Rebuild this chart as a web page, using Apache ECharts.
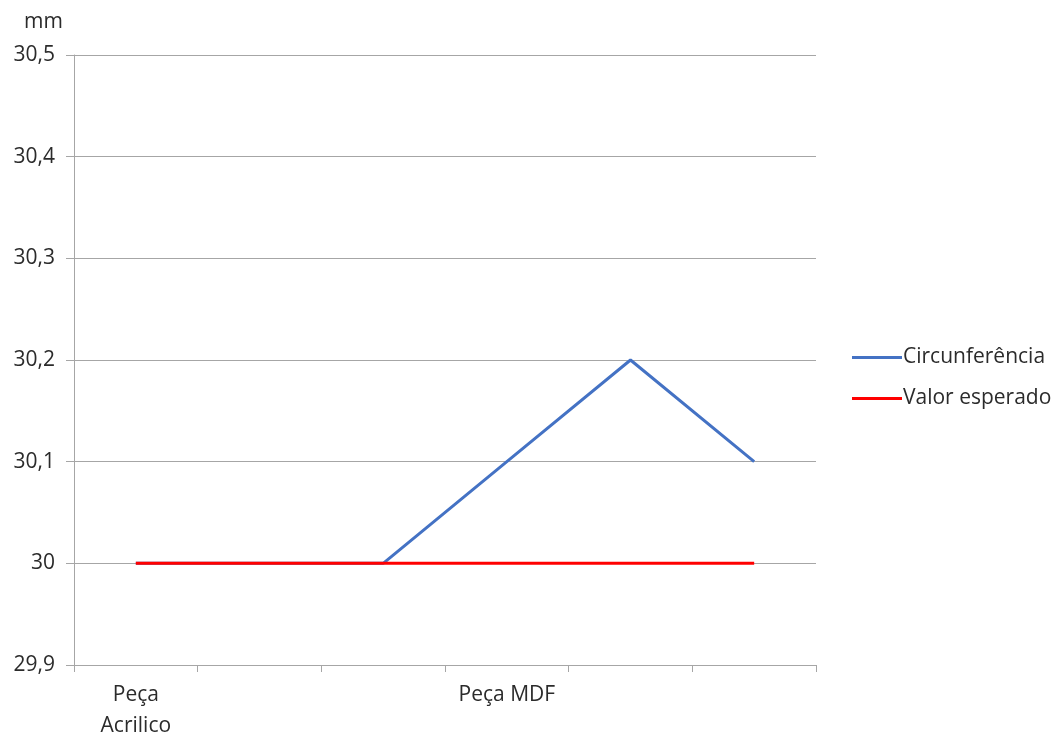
<!DOCTYPE html>
<html>
<head>
<meta charset="utf-8">
<script src="https://cdn.jsdelivr.net/npm/echarts@6/dist/echarts.min.js"></script>
<style>
  html, body { margin: 0; padding: 0; background: #fff; }
  #chart { width: 1053px; height: 735px; }
</style>
</head>
<body>
<div id="chart"></div>
<script>
// Category slots along the x axis (only two carry a label)
const categories = ['Peça\nAcrilico', '', '', 'Peça MDF', '', ''];
// Measured circumference per piece, mm
const circunferencia = [30, 30, 30, 30.1, 30.2, 30.1];
// Expected (nominal) value, mm
const valorEsperado = [30, 30, 30, 30, 30, 30];
// Y axis range and step
const yMin = 29.9, yMax = 30.5, yStep = 0.1;

const FONT = 'Open Sans';
const TEXT = '#2b2b2b';
const FS = 21;

const chart = echarts.init(document.getElementById('chart'), null, { renderer: 'canvas' });
chart.setOption({
  animation: false,
  textStyle: { fontFamily: FONT },
  grid: { left: 74, right: 237, top: 55, bottom: 70, outerBoundsMode: 'none', containLabel: false },
  legend: {
    orient: 'vertical',
    left: 847,
    top: 342,
    itemWidth: 50,
    itemHeight: 3,
    itemGap: 20,
    icon: 'rect',
    textStyle: { fontFamily: FONT, fontSize: FS, color: TEXT, padding: [0, 0, 0, -4] },
    data: ['Circunferência', 'Valor esperado']
  },
  xAxis: {
    type: 'category',
    data: categories,
    boundaryGap: true,
    axisLine: { lineStyle: { color: '#a6a6a6', width: 1 } },
    axisTick: { show: true, length: 7, lineStyle: { color: '#a6a6a6' }, interval: 0 },
    axisLabel: { interval: 0, color: TEXT, fontFamily: FONT, fontSize: FS, margin: 15, lineHeight: 31 },
    splitLine: { show: false }
  },
  yAxis: {
    type: 'value',
    min: yMin,
    max: yMax,
    interval: yStep,
    name: 'mm',
    nameLocation: 'end',
    nameGap: 22,
    nameTextStyle: { color: TEXT, fontFamily: FONT, fontSize: FS, align: 'right', padding: [0, 11, 0, 0] },
    axisLine: { show: true, lineStyle: { color: '#a6a6a6', width: 1 } },
    axisTick: { show: true, length: 8, lineStyle: { color: '#a6a6a6' } },
    axisLabel: {
      color: TEXT, fontFamily: FONT, fontSize: FS, margin: 19,
      formatter: v => String(Math.round(v * 10) / 10).replace('.', ',')
    },
    splitLine: { show: true, lineStyle: { color: '#a6a6a6', width: 1 } }
  },
  series: [
    {
      name: 'Circunferência',
      type: 'line',
      data: circunferencia,
      showSymbol: false,
      symbol: 'none',
      lineStyle: { color: '#4472C4', width: 3 },
      itemStyle: { color: '#4472C4' },
      z: 2
    },
    {
      name: 'Valor esperado',
      type: 'line',
      data: valorEsperado,
      showSymbol: false,
      symbol: 'none',
      lineStyle: { color: '#FF0000', width: 3 },
      itemStyle: { color: '#FF0000' },
      z: 3
    }
  ]
});
</script>
</body>
</html>
